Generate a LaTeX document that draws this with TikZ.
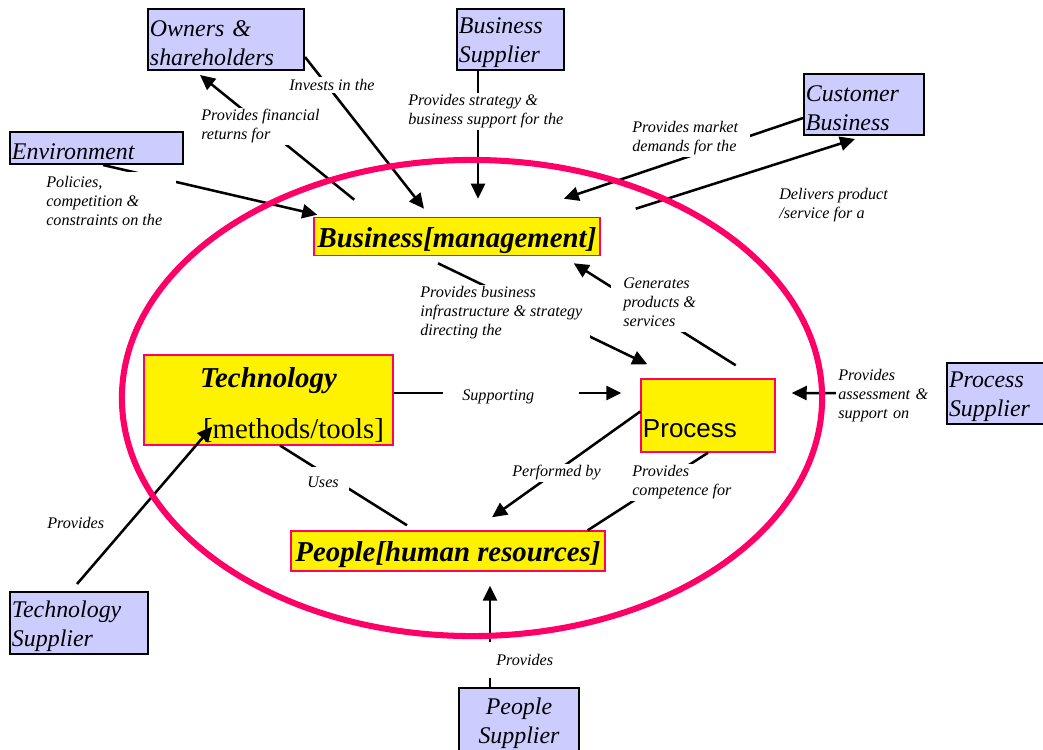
\documentclass[tikz,border=0pt]{standalone}
\usepackage{fontspec}
\setmainfont{Liberation Serif}
\newfontfamily\arialfont{Liberation Sans}
\usepackage{xcolor}
\usepackage{tikz}
\usetikzlibrary{arrows.meta}

\definecolor{partyblue}{HTML}{CCCCFF}
\definecolor{rimpink}{HTML}{FF0066}

\newcommand{\partyfont}{\fontsize{17}{20.6}\selectfont\itshape}
\newcommand{\verbfont}{\fontsize{11.5}{13.5}\selectfont\itshape}
\newcommand{\unitfont}{\fontsize{20.5}{24}\selectfont\bfseries\itshape}

\begin{document}
\begin{tikzpicture}[
    x=0.025cm, y=-0.025cm,
    supplierbox/.style={draw, line width=1.4pt, fill=partyblue, font=\partyfont, align=left, inner sep=0.05cm,
        execute at begin node={\rule{0pt}{0.56cm}}},
    unitbox/.style={draw=rimpink, line width=1pt, fill=yellow, inner sep=0.05cm, font=\unitfont,
        execute at begin node={\rule{0pt}{0.7cm}}},
    relation/.style={anchor=west, fill=white, font=\verbfont, align=left, inner sep=0.05cm},
    arrow/.style={-{Triangle[length=0.375cm, width=0.35cm]}, line width=1.8pt},
    link/.style={line width=1.8pt}
]
    \useasboundingbox (0,0) rectangle (1043,749);
    \clip (0,0) rectangle (1043,749);

    % outside parties
    \node[supplierbox, text width=3.8cm, minimum height=1.525cm] (owners) at (226,39.5) {Owners \&\\shareholders};
    \node[supplierbox, text width=2.575cm, minimum height=1.525cm] (bsupp) at (510.5,39.5) {Business\\Supplier};
    \node[supplierbox, text width=4.225cm, minimum height=0.8cm] (env) at (96.5,148) {Environment};
    \node[supplierbox, text width=2.9cm, minimum height=1.525cm] (cust) at (864,104.5) {Customer\\Business};
    \node[supplierbox, text width=2.475cm, minimum height=1.525cm] (psupp) at (998.5,393.5) {Process\\Supplier};
    \node[supplierbox, text width=3.35cm, minimum height=1.55cm] (tsupp) at (79,623) {Technology\\Supplier};
    \node[supplierbox, text width=2.9cm, minimum height=1.6cm, align=center] (pesupp) at (519,720) {People\\Supplier};

    % the four parts of the organisation
    \node[unitbox, minimum width=7.15cm, minimum height=0.925cm] (bmgmt) at (457,236.5) {Business[management]};
    \node[unitbox, minimum width=6.225cm, minimum height=2.2cm, align=center, font=\fontsize{20.5}{24}\selectfont] (tech) at (268.5,400)
        {\rule{0pt}{0.75cm}{\bfseries\itshape Technology}\\[0.45cm]\hspace*{1.25cm}{[}methods/tools]};
    \node[unitbox, text width=3.25cm, minimum height=1.825cm, align=left, text height=1.075cm, text depth=0pt,
        font=\arialfont\fontsize{18.5}{22}\selectfont] (proc) at (708,415.5) {Process};
    \node[unitbox, minimum width=7.85cm, minimum height=1cm] (people) at (448,551) {People[human resources]};

    % relations
    \draw[arrow] ([shift={(0,17.5)}]owners.east) -- ([shift={(-33,-8)}]bmgmt.north);
    \draw[arrow] ([shift={(41,-17)}]bmgmt.north west) -- ([shift={(-26,4)}]owners.south);
    \draw[arrow] ([shift={(6.5,0)}]env.south) -- ([shift={(4,-2)}]bmgmt.north west);
    \draw[arrow] ([shift={(-32.5,0)}]bsupp.south) -- ([shift={(21,-18)}]bmgmt.north);
    \draw[arrow] ([shift={(0,13.5)}]cust.west) -- ([shift={(-37,-18)}]bmgmt.north east);
    \draw[arrow] ([shift={(35,-8)}]bmgmt.north east) -- ([shift={(-9,3)}]cust.south);
    \draw[arrow] ([shift={(-19,7)}]bmgmt.south) -- ([shift={(7,-14)}]proc.north west);
    \draw[arrow] ([shift={(-40,-13)}]proc.north east) -- ([shift={(-27,7)}]bmgmt.south east);
    \draw[arrow] ([shift={(0,-7)}]tech.east) -- ([shift={(-19,-22.5)}]proc.west);
    \draw[arrow] (psupp.west) -- ([shift={(16,-22.5)}]proc.east);
    \draw[arrow] ([shift={(0,-4)}]proc.west) -- ([shift={(44,-13)}]people.north);
    \draw[link] ([shift={(-18,0)}]people.north east) -- (proc.south);
    \draw[link] ([shift={(-41,-5)}]people.north) -- ([shift={(11.5,0)}]tech.south);
    \draw[arrow] ([shift={(-2,-7)}]tsupp.north) -- ([shift={(69,-19)}]tech.south west);
    \draw[arrow] ([shift={(-29,0)}]pesupp.north) -- ([shift={(42,14)}]people.south);

    % relation labels
    \node[relation] (invests) at (287,85) {Invests in the};
    \node[relation] (returns) at (199,126.5) {Provides financial\\returns for};
    \node[relation, inner xsep=0.35cm, inner ysep=0.12cm] (policies) at (32,201) {Policies,\\competition \&\\constraints on the};
    \node[relation] (strategy) at (406,111.5) {Provides strategy \&\\business support for the};
    \node[relation, inner xsep=0.3cm] (demands) at (620,138.5) {Provides market\\demands for the};
    \node[relation] (delivers) at (777,205.5) {Delivers product\\/service for a};
    \node[relation, inner xsep=0.2cm] (infra) at (412,313) {Provides business\\infrastructure \& strategy\\directing the};
    \node[relation, inner xsep=0.3cm, inner ysep=0.15cm] (generates) at (611,302) {Generates\\products \&\\services};
    \node[relation, inner xsep=0.475cm] (supporting) at (443,397) {Supporting\hspace{0.65cm}};
    \node[relation, text width=2.65cm] (assessment) at (836,396) {Provides\\assessment \&\\support on};
    \node[relation] (performed) at (510,473) {Performed by};
    \node[relation] (competence) at (630,482.5) {Provides\\competence for};
    \node[relation, inner sep=0.25cm] (uses) at (297,482) {Uses};
    \node[relation] (tprovides) at (45,523) {Provides};
    \node[relation, inner xsep=0.25cm, inner ysep=0.3cm] (pprovides) at (486,660) {Provides};

    % organisation boundary
    \draw[rimpink, line width=4.3pt] (472,398) ellipse [x radius=8.75cm, y radius=5.95cm];
\end{tikzpicture}
\end{document}
